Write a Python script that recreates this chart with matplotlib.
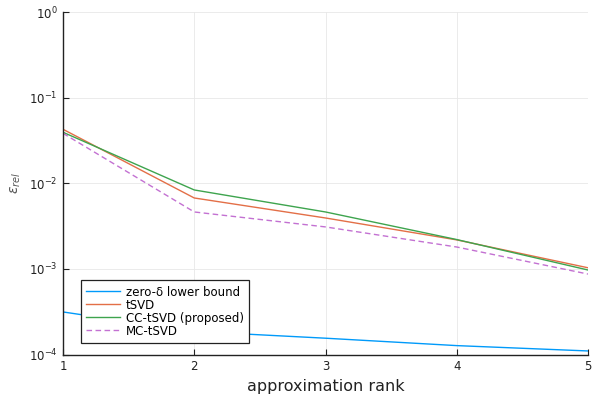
import matplotlib
matplotlib.use("Agg")
from matplotlib import pyplot as plt
from matplotlib import ticker
import numpy as np

ranks = [1, 2, 3, 4, 5]
lower_bound = [3.14e-4, 1.86e-4, 1.55e-4, 1.27e-4, 1.10e-4]
tsvd = [0.0427, 0.00673, 0.00393, 0.00218, 0.00103]
cc_tsvd = [0.0394, 0.00835, 0.00462, 0.00220, 0.00097]
mc_tsvd = [0.0383, 0.00462, 0.00309, 0.00180, 0.00087]

fig = plt.figure(figsize=(6, 4), dpi=100)
ax = fig.add_axes([63 / 600, 1 - 354.5 / 400, (588 - 63) / 600, (354.5 - 12) / 400])

ax.plot(ranks, lower_bound, color="#009AFA", lw=1, label="zero-δ lower bound")
ax.plot(ranks, tsvd, color="#E36F47", lw=1, label="tSVD")
ax.plot(ranks, cc_tsvd, color="#3EA44E", lw=1, label="CC-tSVD (proposed)")
ax.plot(ranks, mc_tsvd, color="#C371D2", lw=1, ls=(0, (4, 2.5)), label="MC-tSVD")

ax.set_yscale("log")
ax.set_ylim(1e-4, 1)
ax.set_xlim(1, 5)
ax.set_xticks(ranks)
ax.yaxis.set_major_locator(ticker.LogLocator(base=10, numticks=10))
ax.yaxis.set_minor_locator(ticker.NullLocator())

ax.grid(True, color="#e8e8e8", lw=0.6)
ax.set_axisbelow(True)
for side in ["top", "right"]:
    ax.spines[side].set_visible(False)
for side in ["left", "bottom"]:
    ax.spines[side].set_color("#222222")
    ax.spines[side].set_linewidth(1)
ax.tick_params(direction="in", length=4, width=0.8, color="#222222",
               labelsize=8.5, labelcolor="#222222", pad=4)

ax.set_xlabel("approximation rank", fontsize=11.5, color="#222222", labelpad=4)
ax.set_ylabel(r"$\varepsilon_{rel}$", fontsize=10, color="#555555", labelpad=4)

leg = ax.legend(loc="lower left", bbox_to_anchor=(0.034, 0.034), fontsize=8.5,
                frameon=True, fancybox=False, framealpha=1, borderpad=0.45,
                borderaxespad=0, labelspacing=0.0, handlelength=2.9,
                handletextpad=0.45)
leg.get_frame().set_edgecolor("#222222")
leg.get_frame().set_linewidth(0.9)

fig.savefig("out.png", dpi=100)
